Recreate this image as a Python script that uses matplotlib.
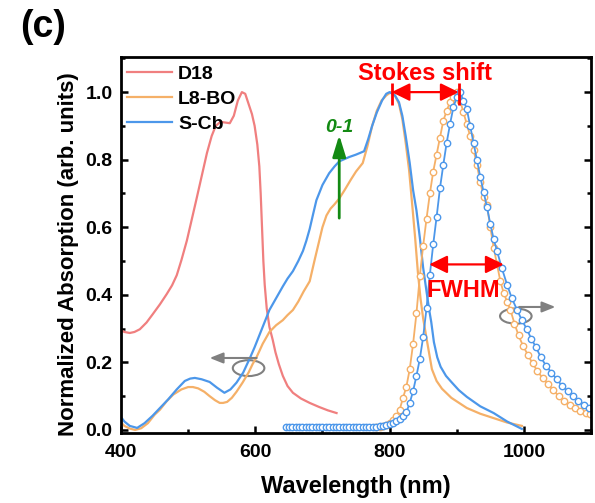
import matplotlib
matplotlib.use("Agg")
import matplotlib.pyplot as plt
from matplotlib.patches import Ellipse
from matplotlib.ticker import MultipleLocator

# absorption spectra (normalized)
d18_wl = [400, 405, 413, 420, 428, 438, 447, 458, 468, 476, 483, 490, 498, 505,
          512, 520, 528, 535, 541, 548, 555, 562, 568, 574, 580, 585, 590, 595,
          599, 603, 606, 608, 610, 612, 614, 617, 621, 626, 630, 635, 641, 648,
          656, 668, 681, 695, 708, 721]
d18_abs = [0.295, 0.29, 0.287, 0.29, 0.298, 0.318, 0.342, 0.372, 0.402, 0.428,
           0.458, 0.503, 0.56, 0.62, 0.68, 0.75, 0.82, 0.87, 0.90, 0.912, 0.91,
           0.908, 0.93, 0.975, 1.0, 0.995, 0.965, 0.935, 0.9, 0.845, 0.78, 0.70,
           0.60, 0.50, 0.43, 0.36, 0.305, 0.266, 0.23, 0.195, 0.16, 0.13, 0.11,
           0.093, 0.08, 0.068, 0.058, 0.05]

l8bo_wl = [400, 405, 413, 421, 430, 440, 450, 458, 468, 478, 490, 500, 507, 515,
           524, 532, 540, 547, 552, 558, 565, 572, 581, 590, 596, 602, 611, 621,
           631, 641, 648, 656, 664, 672, 681, 688, 694, 700, 706, 712, 718, 725,
           733, 742, 750, 760, 767, 774, 781, 788, 795, 802, 808, 814, 819, 824,
           829, 834, 838, 842, 846, 850, 856, 863, 870, 878, 892, 915, 935, 955,
           975, 997]
l8bo_abs = [0.022, 0.012, 0.004, 0.0, 0.005, 0.02, 0.045, 0.06, 0.085, 0.105,
            0.12, 0.127, 0.127, 0.123, 0.113, 0.10, 0.088, 0.08, 0.08, 0.083,
            0.095, 0.113, 0.14, 0.17, 0.195, 0.216, 0.255, 0.29, 0.31, 0.325,
            0.34, 0.355, 0.38, 0.41, 0.44, 0.50, 0.55, 0.60, 0.635, 0.655, 0.668,
            0.685, 0.71, 0.74, 0.765, 0.79, 0.84, 0.90, 0.945, 0.975, 0.99, 1.0,
            0.99, 0.965, 0.92, 0.85, 0.77, 0.66, 0.57, 0.47, 0.39, 0.33, 0.26,
            0.18, 0.145, 0.122, 0.095, 0.065, 0.048, 0.035, 0.022, 0.012]

scb_wl = [400, 405, 413, 424, 435, 447, 458, 470, 483, 495, 503, 510, 520, 532,
          543, 554, 563, 572, 582, 592, 599, 606, 614, 621, 631, 641, 648, 656,
          664, 671, 676, 681, 686, 691, 700, 710, 718, 725, 740, 750, 762, 768,
          774, 781, 789, 795, 800, 808, 814, 819, 824, 830, 835, 840, 845, 850,
          855, 859, 862, 866, 871, 876, 884, 892, 903, 915, 935, 955, 975, 997]
scb_abs = [0.038, 0.025, 0.012, 0.006, 0.02, 0.042, 0.065, 0.09, 0.12, 0.145,
           0.152, 0.154, 0.15, 0.142, 0.125, 0.11, 0.12, 0.14, 0.17, 0.213, 0.245,
           0.28, 0.32, 0.355, 0.39, 0.425, 0.448, 0.47, 0.50, 0.53, 0.56, 0.595,
           0.638, 0.68, 0.725, 0.76, 0.78, 0.795, 0.808, 0.815, 0.825, 0.86, 0.90,
           0.94, 0.976, 0.995, 1.0, 0.99, 0.97, 0.93, 0.87, 0.79, 0.71, 0.65,
           0.57, 0.48, 0.41, 0.355, 0.32, 0.26, 0.215, 0.187, 0.16, 0.142, 0.118,
           0.098, 0.07, 0.05, 0.025, 0.003]

# photoluminescence spectra (normalized)
l8bo_pl_wl = [780, 785, 790, 795, 800, 805, 810, 815, 820, 825, 830, 835, 840,
              845, 850, 855, 860, 865, 870, 875, 880, 885, 890, 895, 900, 905,
              910, 915, 920, 925, 930, 935, 940, 945, 950, 955, 960, 965, 970,
              975, 980, 986, 992, 999, 1006, 1013, 1020, 1028, 1036, 1044, 1052,
              1060, 1068, 1076, 1084, 1092, 1099]
l8bo_pl = [0.008, 0.01, 0.012, 0.015, 0.02, 0.03, 0.04, 0.06, 0.095, 0.128, 0.18,
           0.255, 0.345, 0.455, 0.545, 0.625, 0.70, 0.765, 0.815, 0.865, 0.915,
           0.945, 0.97, 0.985, 1.0, 0.975, 0.94, 0.905, 0.87, 0.83, 0.785, 0.735,
           0.69, 0.665, 0.60, 0.54, 0.49, 0.44, 0.405, 0.38, 0.355, 0.315, 0.28,
           0.248, 0.222, 0.197, 0.175, 0.153, 0.135, 0.117, 0.10, 0.085, 0.074,
           0.066, 0.056, 0.05, 0.046]

scb_pl_wl = [645, 650, 655, 660, 665, 670, 675, 680, 685, 690, 695, 700, 705,
             710, 715, 720, 725, 730, 735, 740, 745, 750, 755, 760, 765, 770,
             775, 780, 785, 790, 795, 800, 805, 810, 815, 820, 825, 830, 835,
             840, 845, 850, 855, 860, 865, 870, 875, 880, 885, 890, 895, 900,
             905, 910, 915, 920, 925, 930, 935, 940, 945, 950, 955, 960, 967,
             975, 982, 990, 997, 1004, 1011, 1018, 1025, 1033, 1041, 1049, 1057,
             1065, 1073, 1081, 1089, 1097]
scb_pl = [0.008, 0.008, 0.008, 0.008, 0.008, 0.008, 0.008, 0.008, 0.008, 0.008,
          0.008, 0.008, 0.008, 0.008, 0.008, 0.008, 0.008, 0.008, 0.008, 0.008,
          0.008, 0.008, 0.008, 0.008, 0.009, 0.009, 0.01, 0.01, 0.011, 0.013,
          0.015, 0.017, 0.02, 0.025, 0.032, 0.04, 0.052, 0.08, 0.115, 0.16, 0.21,
          0.275, 0.36, 0.46, 0.55, 0.63, 0.715, 0.785, 0.85, 0.905, 0.955, 0.985,
          1.0, 0.975, 0.95, 0.90, 0.85, 0.80, 0.75, 0.705, 0.66, 0.61, 0.565,
          0.53, 0.48, 0.43, 0.39, 0.355, 0.325, 0.30, 0.27, 0.245, 0.216, 0.19,
          0.17, 0.15, 0.13, 0.115, 0.10, 0.087, 0.075, 0.065]

# annotated spectral features
stokes_from, stokes_to = 803, 903
fwhm_from, fwhm_to, fwhm_level = 859, 970, 0.49

RED = "#F07F7F"
ORANGE = "#F5B068"
BLUE = "#4C97EA"

plt.rcParams["font.family"] = ["Liberation Sans", "DejaVu Sans"]
plt.rcParams["font.weight"] = "bold"

fig = plt.figure(figsize=(5.95, 5.03), dpi=100)
ax = fig.add_axes([0.2034, 0.1392, 0.7899, 0.7475])

ax.plot(d18_wl, d18_abs, color=RED, lw=1.6, label="D18")
ax.plot(l8bo_wl, l8bo_abs, color=ORANGE, lw=1.6, label="L8-BO")
ax.plot(scb_wl, scb_abs, color=BLUE, lw=1.6, label="S-Cb")

ax.plot(l8bo_pl_wl, l8bo_pl, color=ORANGE, lw=1.3, marker="o", ms=4.6,
        mfc="white", mec=ORANGE, mew=1.0)
ax.plot(scb_pl_wl, scb_pl, color=BLUE, lw=1.3, marker="o", ms=4.6,
        mfc="white", mec=BLUE, mew=1.0)

ax.set_xlim(400, 1100)
ax.set_ylim(-0.009, 1.104)
ax.xaxis.set_major_locator(MultipleLocator(200))
ax.xaxis.set_minor_locator(MultipleLocator(100))
ax.yaxis.set_major_locator(MultipleLocator(0.2))
ax.yaxis.set_minor_locator(MultipleLocator(0.1))
ax.tick_params(which="both", direction="in", top=False, right=True,
               labelsize=14, width=1.8)
ax.tick_params(which="major", length=5)
ax.tick_params(which="minor", length=3)
ax.tick_params(axis="x", pad=8)
ax.tick_params(axis="y", pad=6)
for sp in ax.spines.values():
    sp.set_linewidth(2.0)

ax.set_xlabel("Wavelength (nm)", fontsize=17, fontweight="bold", labelpad=10)
ax.set_ylabel("Normalized Absorption (arb. units)", fontsize=16,
              fontweight="bold", labelpad=5)
ax.yaxis.label.set_y(0.476)

ax.legend(loc="upper left", bbox_to_anchor=(0.012, 0.977), frameon=False,
          fontsize=14, handlelength=2.35, handletextpad=0.3, labelspacing=0.38,
          borderpad=0, borderaxespad=0)

# Stokes shift marker
ax.annotate("", xy=(stokes_to, 1.0), xytext=(stokes_from, 1.0),
            arrowprops=dict(arrowstyle="<|-|>,head_length=0.55,head_width=0.27",
                            color="red", lw=1.6, shrinkA=0, shrinkB=0,
                            mutation_scale=20))
ax.vlines([stokes_from, stokes_to], 0.962, 1.027, color="red", lw=2)
ax.text((stokes_from + stokes_to) / 2 - 1, 1.056, "Stokes shift", color="red",
        fontsize=17, fontweight="bold", ha="center", va="center")

# FWHM marker
ax.annotate("", xy=(fwhm_to, fwhm_level), xytext=(fwhm_from, fwhm_level),
            arrowprops=dict(arrowstyle="<|-|>,head_length=0.55,head_width=0.27",
                            color="red", lw=1.6, shrinkA=0, shrinkB=0,
                            mutation_scale=20))
ax.text(909, 0.414, "FWHM", color="red", fontsize=17, fontweight="bold",
        ha="center", va="center")

# 0-1 vibronic shoulder
ax.annotate("", xy=(725, 0.873), xytext=(725, 0.627),
            arrowprops=dict(arrowstyle="-|>,head_length=0.65,head_width=0.2",
                            color="#138A13", lw=2, shrinkA=0, shrinkB=0,
                            mutation_scale=20))
ax.text(725, 0.896, "0-1", color="#138A13", fontsize=14, fontweight="bold",
        fontstyle="italic", ha="center", va="center")

# axis guides
GREY = "#808080"
ax.add_patch(Ellipse((590, 0.183), 47, 0.047, fill=False, ec=GREY, lw=1.5))
ax.annotate("", xy=(532, 0.213), xytext=(602, 0.213),
            arrowprops=dict(arrowstyle="-|>,head_length=0.5,head_width=0.2",
                            color=GREY, lw=1.5, shrinkA=0, shrinkB=0,
                            mutation_scale=16))
ax.add_patch(Ellipse((988, 0.337), 47, 0.045, fill=False, ec=GREY, lw=1.5))
ax.annotate("", xy=(1047, 0.364), xytext=(993, 0.364),
            arrowprops=dict(arrowstyle="-|>,head_length=0.5,head_width=0.2",
                            color=GREY, lw=1.5, shrinkA=0, shrinkB=0,
                            mutation_scale=16))

fig.text(0.072, 0.946, "(c)", fontsize=27, fontweight="bold",
         ha="center", va="center")

fig.savefig("out.png", dpi=100)
